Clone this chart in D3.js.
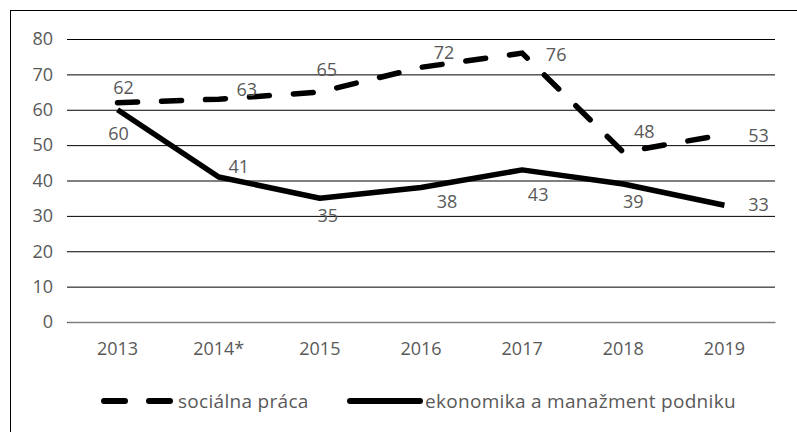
<!DOCTYPE html>
<html>
<head>
<meta charset="utf-8">
<script src="https://cdn.jsdelivr.net/npm/d3@7"></script>
<style>
  body { margin: 0; background: #fff; }
  text { font-family: "Open Sans", sans-serif; fill: #595959; }
</style>
</head>
<body>
<div id="chart-area"></div>
<script>
const width = 797;
const height = 432;

// data
const years = ['2013', '2014*', '2015', '2016', '2017', '2018', '2019'];
const socialna = [62, 63, 65, 72, 76, 48, 53];
const ekonomika = [60, 41, 35, 38, 43, 39, 33];
const yTicks = [0, 10, 20, 30, 40, 50, 60, 70, 80];

// label nudges [dx, dy] from the point (Excel placed them all over)
const socLabelOffset = [[6, -9], [28, -3], [7, -16], [23, -8], [34, 8], [21, -14], [34, 7]];
const ekoLabelOffset = [[1, 30], [20, -4], [8, 24], [26, 20], [16, 31], [10, 24], [34, 6]];

const margin = { top: 39, right: 22, bottom: 110, left: 67 };

const svg = d3
  .select('#chart-area')
  .append('svg')
  .attr('width', width)
  .attr('height', height);

// frame
svg
  .append('rect')
  .attr('x', 10.5)
  .attr('y', 10.5)
  .attr('width', width + 20)
  .attr('height', height + 20)
  .attr('fill', 'none')
  .attr('stroke', '#000')
  .attr('stroke-width', 1);

const x = d3
  .scaleBand()
  .domain(years)
  .range([margin.left, width - margin.right]);

const y = d3
  .scaleLinear()
  .domain([0, 80])
  .range([height - margin.bottom, margin.top]);

// gridlines + y labels
const yAxis = svg
  .append('g')
  .attr('transform', `translate(${margin.left},0)`)
  .call(
    d3
      .axisLeft(y)
      .tickValues(yTicks)
      .tickSize(-(width - margin.left - margin.right))
      .tickPadding(14)
  );
yAxis.select('.domain').remove();
yAxis.selectAll('line').attr('stroke', '#000').attr('stroke-width', 1);
yAxis
  .selectAll('text')
  .style('font-size', '18px')
  .style('font-family', '"Open Sans", sans-serif')
  .attr('fill', '#595959');

// x axis
const xAxis = svg
  .append('g')
  .attr('transform', `translate(0,${y(0)})`)
  .call(d3.axisBottom(x).tickSize(0).tickPadding(20));
xAxis.select('.domain').attr('stroke', '#7f7f7f').attr('stroke-width', 1.5);
xAxis
  .selectAll('text')
  .style('font-size', '18px')
  .style('font-family', '"Open Sans", sans-serif')
  .attr('fill', '#595959');

const cx = (i) => x(years[i]) + x.bandwidth() / 2;

const line = d3
  .line()
  .x((d, i) => cx(i))
  .y((d) => y(d));

svg
  .append('path')
  .datum(socialna)
  .attr('d', line)
  .attr('fill', 'none')
  .attr('stroke', '#000')
  .attr('stroke-width', 5.5)
  .attr('stroke-linecap', 'round')
  .attr('stroke-dasharray', '20,24');

svg
  .append('path')
  .datum(ekonomika)
  .attr('d', line)
  .attr('fill', 'none')
  .attr('stroke', '#000')
  .attr('stroke-width', 5.5)
  .attr('stroke-linejoin', 'round');

function labels(values, offs) {
  svg
    .append('g')
    .selectAll('text')
    .data(values)
    .join('text')
    .attr('x', (d, i) => cx(i) + offs[i][0])
    .attr('y', (d, i) => y(d) + offs[i][1])
    .attr('text-anchor', 'middle')
    .style('font-size', '18px')
    .text((d) => d);
}
labels(socialna, socLabelOffset);
labels(ekonomika, ekoLabelOffset);

// legend
const legY = 401;
const leg = svg.append('g');
leg
  .append('line')
  .attr('x1', 104)
  .attr('x2', 170)
  .attr('y1', legY)
  .attr('y2', legY)
  .attr('stroke', '#000')
  .attr('stroke-width', 6)
  .attr('stroke-linecap', 'round')
  .attr('stroke-dasharray', '21,24');
leg
  .append('text')
  .attr('x', 178)
  .attr('y', legY + 7)
  .style('font-size', '19px')
  .style('letter-spacing', '0.3px')
  .text('sociálna práca');
leg
  .append('line')
  .attr('x1', 350)
  .attr('x2', 420)
  .attr('y1', legY)
  .attr('y2', legY)
  .attr('stroke', '#000')
  .attr('stroke-width', 6)
  .attr('stroke-linecap', 'round');
leg
  .append('text')
  .attr('x', 425)
  .attr('y', legY + 7)
  .style('font-size', '19px')
  .style('letter-spacing', '0.3px')
  .text('ekonomika a manažment podniku');
</script>
</body>
</html>
